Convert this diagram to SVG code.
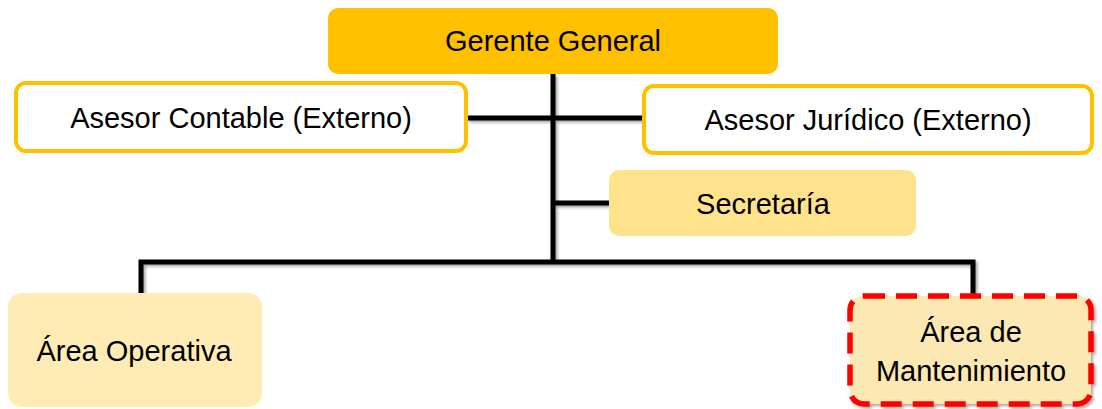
<svg xmlns="http://www.w3.org/2000/svg" width="1102" height="409" viewBox="0 0 1102 409">
  <defs>
    <filter id="shadow" x="-5%" y="-5%" width="115%" height="125%">
      <feGaussianBlur in="SourceAlpha" stdDeviation="1.5"/>
      <feOffset dx="1.5" dy="2" result="b"/>
      <feComponentTransfer><feFuncA type="linear" slope="0.35"/></feComponentTransfer>
      <feMerge><feMergeNode/><feMergeNode in="SourceGraphic"/></feMerge>
    </filter>
  </defs>
  <style>
    text { font-family: "Liberation Sans", Arial, sans-serif; font-size: 29px; fill: #000; text-anchor: middle; }
    .link { fill: none; stroke: #000; stroke-width: 5; stroke-linejoin: miter; }
    .head { fill: #FFC000; }
    .ext { fill: #FFFFFF; stroke: #FFC000; stroke-width: 4; }
    .sec { fill: #FFE38C; }
    .area { fill: #FFEBB4; }
    .maint { fill: #FCE8B2; stroke: #FF0000; stroke-width: 5.5; stroke-dasharray: 21 11; }
  </style>

  <!-- connectors -->
  <g id="connectors" filter="url(#shadow)">
    <path class="link" d="M553,74 V262"/>
    <path class="link" d="M467,118 H643"/>
    <path class="link" d="M553,203 H609"/>
    <path class="link" d="M141,295 V262 H973 V294"/>
  </g>

  <g id="gerente-general">
    <rect class="head" x="328" y="8" width="450" height="66" rx="10"/>
    <text x="553" y="51">Gerente General</text>
  </g>

  <g id="asesor-contable">
    <rect class="ext" x="16" y="83" width="450" height="68" rx="10"/>
    <text x="241" y="128">Asesor Contable (Externo)</text>
  </g>

  <g id="asesor-juridico">
    <rect class="ext" x="644" y="86" width="448" height="67" rx="10"/>
    <text x="868" y="130">Asesor Jurídico (Externo)</text>
  </g>

  <g id="secretaria">
    <rect class="sec" x="609" y="170" width="307" height="66" rx="10"/>
    <text x="763" y="214">Secretaría</text>
  </g>

  <g id="area-operativa">
    <rect class="area" x="8" y="293" width="254" height="114" rx="14"/>
    <text x="134" y="361">Área Operativa</text>
  </g>

  <g id="area-mantenimiento">
    <rect class="maint" x="850" y="296" width="241" height="108" rx="14" filter="url(#shadow)"/>
    <text x="971" y="342">Área de</text>
    <text x="971" y="381">Mantenimiento</text>
  </g>
</svg>
